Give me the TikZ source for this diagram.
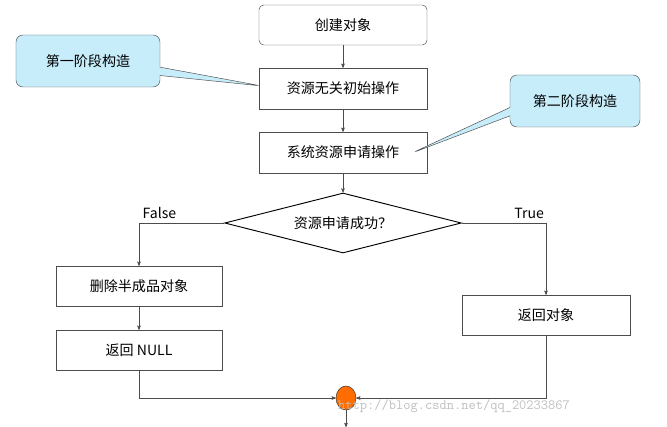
\documentclass[tikz,border=0pt]{standalone}
\usepackage{fontspec}
\setmainfont{Noto Sans CJK SC}
\usetikzlibrary{shapes.geometric, shapes.callouts, arrows}
\tikzstyle{startstop} = [rectangle, rounded corners, minimum width=5.04cm, minimum height=1.2cm, text centered, draw=black!70, fill=white]
\tikzstyle{process} = [rectangle, minimum width=5.04cm, minimum height=1.23cm, text centered, draw=black!70, fill=white]
\tikzstyle{decision} = [diamond, aspect=4, minimum width=7.1cm, minimum height=1.8cm, inner sep=0pt, text centered, draw=black, thick]
\tikzstyle{note} = [rectangle callout, rounded corners=6pt, minimum width=4.2cm, minimum height=1.56cm, draw=black!70, fill=cyan!22]
\tikzstyle{arrow} = [->, >=stealth', draw=black!70]
\begin{document}
\begin{tikzpicture}[x=0.03cm, y=-0.03cm, font=\large]
		\useasboundingbox (0,0) rectangle (667,427);
		\node (create) [startstop] at (343,25) {创建对象};
		\node (init) [process] at (343,88.5) {资源无关初始操作};
		\node (alloc) [process] at (343,152.5) {系统资源申请操作};
		\node (ok) [decision] at (343,223) {资源申请成功？};
		\node (del) [process, minimum width=4.98cm, minimum height=1.2cm] at (139,286) {删除半成品对象};
		\node (null) [process, minimum width=4.98cm, minimum height=1.2cm] at (139,350) {返回 NULL};
		\node (ret) [process, minimum height=1.2cm] at (546,315) {返回对象};
		\node (join) [ellipse, minimum width=0.6cm, minimum height=0.72cm, inner sep=0pt, draw=black!80, fill=orange!85!red] at (346,398) {};
		\coordinate (exit) at (346,427);
		\node (stage1) [note, minimum width=4.32cm, callout absolute pointer={(262,86)}] at (88,61) {第一阶段构造};
		\node (stage2) [note, minimum width=3.9cm, callout absolute pointer={(412,153)}] at (575,101) {第二阶段构造};
		\node (wm) [font=\ttfamily\large, text=black!25, anchor=west, inner sep=0pt] at (338,406) {http://blog.csdn.net/qq\_20233867};

		\draw [arrow](create) -- (init);
		\draw [arrow](init) -- (alloc);
		\draw [arrow](alloc) -- (ok);
		\draw [arrow](ok.west) -| node[pos=0.38, above] {False} (del.north);
		\draw [arrow](ok.east) -| node[pos=0.4, above] {True} (ret.north);
		\draw [arrow](del) -- (null);
		\draw [arrow](null.south) |- (join.west);
		\draw [arrow](ret.south) |- (join.east);
		\draw [arrow](join) -- (exit);
	\end{tikzpicture}
\end{document}
